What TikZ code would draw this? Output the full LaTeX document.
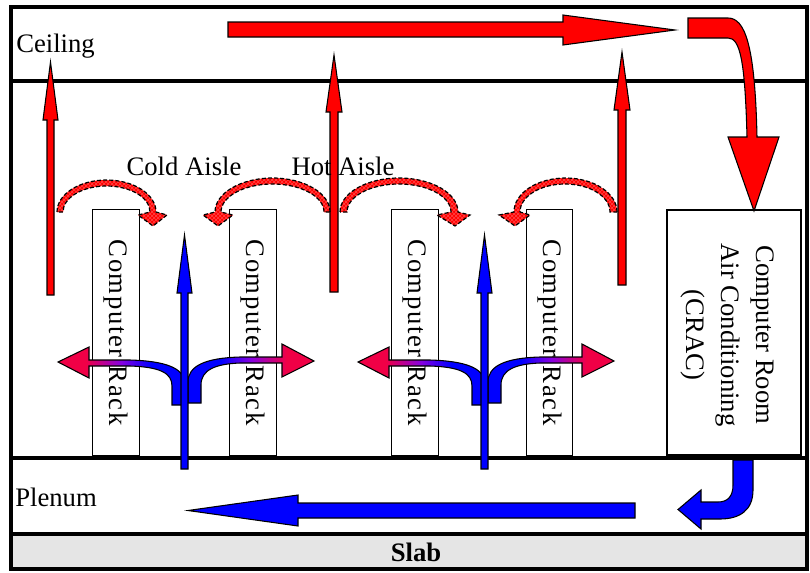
\documentclass[tikz,border=0pt]{standalone}
\usepackage{fontspec}
\setmainfont{Liberation Serif}
\usetikzlibrary{patterns}
\definecolor{hotpink}{RGB}{240,0,70}
\definecolor{midpurple}{RGB}{135,0,225}
\pgfdeclarehorizontalshading{splitLshade}{100bp}{color(0bp)=(hotpink); color(36bp)=(hotpink);
  color(50bp)=(midpurple); color(62bp)=(blue); color(100bp)=(blue)}
\pgfdeclarehorizontalshading{splitRshade}{100bp}{color(0bp)=(blue); color(38bp)=(blue);
  color(50bp)=(midpurple); color(64bp)=(hotpink); color(100bp)=(hotpink)}
\begin{document}
\begin{tikzpicture}[x=0.75pt,y=-0.75pt,
  wall/.style={line width=2.7pt},
  blk/.style={draw=black,line width=0.8pt,line join=miter},
  redarrow/.style={blk,fill=red},
  bluearrow/.style={blk,fill=blue},
  splitl/.style={blk,shading=splitLshade},
  splitr/.style={blk,shading=splitRshade},
  hotarc/.style={draw=black,line width=0.9pt,dash pattern=on 3pt off 1.6pt,
     preaction={fill=red},preaction={pattern=crosshatch,pattern color=red!72!white}},
  rackbox/.style={draw=black,line width=0.8pt,fill=white,rotate=-90,inner sep=0pt,
     minimum width=184pt,minimum height=35pt,
     font=\fontsize{20}{24}\selectfont\addfontfeature{LetterSpace=6}},
  lbl/.style={font=\fontsize{20}{24}\selectfont,inner sep=0pt}]
\useasboundingbox (0,0) rectangle (810,572);

% slab and walls
\fill[gray!20] (11,534) rectangle (807,569);
\draw[wall] (11,7) rectangle (807,569);
\draw[wall] (11,81) -- (807,81);
\draw[wall] (11,458) -- (807,458);
\draw[wall] (11,534) -- (807,534);

% racks
\node[rackbox] (r1) at (116,332.5) {Computer Rack};
\node[rackbox] (r2) at (253,332.5) {Computer Rack};
\node[rackbox] (r3) at (415,332.5) {Computer Rack};
\node[rackbox] (r4) at (549.5,332.5) {Computer Rack};

% CRAC
\node[draw=black,line width=0.8pt,fill=white,minimum width=100.5pt,minimum height=183.75pt,inner sep=0pt]
  (crac) at (734,332.5) {};
\node[lbl,rotate=-90,align=center,font=\fontsize{20}{26}\selectfont] (cractext) at (727.5,335)
  {Computer Room\\Air Conditioning\\(CRAC)};

% red vertical hot-air arrows
\draw[redarrow] (47,295) -- (47,120) -- (43,120) -- (50.5,62) -- (58,120) -- (54,120) -- (54,295) -- cycle;
\draw[redarrow] (330,292) -- (330,112) -- (326,112) -- (334,55) -- (342,112) -- (338,112) -- (338,292) -- cycle;
\draw[redarrow] (618,285) -- (618,110) -- (614,110) -- (622,52) -- (630,110) -- (626,110) -- (626,285) -- cycle;

% hot curved arrows
\draw[hotarc] (57,212) arc[start angle=180,end angle=360,x radius=49.5,y radius=32]
  -- (167,215) -- (153,226) -- (138,215) -- (150,212)
  arc[start angle=360,end angle=180,x radius=43.5,y radius=26] -- cycle;
\draw[hotarc] (330,212) arc[start angle=360,end angle=180,x radius=57.5,y radius=34]
  -- (203,215) -- (218,226) -- (233,215) -- (221,212)
  arc[start angle=180,end angle=360,x radius=51.5,y radius=28] -- cycle;
\draw[hotarc] (340,212) arc[start angle=180,end angle=360,x radius=59,y radius=34]
  -- (470,215) -- (455,226) -- (437,215) -- (451,212)
  arc[start angle=360,end angle=180,x radius=52,y radius=28] -- cycle;
\draw[hotarc] (617,212) arc[start angle=360,end angle=180,x radius=51.5,y radius=34]
  -- (499,215) -- (515,226) -- (530,215) -- (520,212)
  arc[start angle=180,end angle=360,x radius=45,y radius=28] -- cycle;

% ceiling return arrow
\draw[redarrow] (228,22) -- (563,22) -- (563,15) -- (675,30) -- (563,45) -- (563,37) -- (228,37) -- cycle;
\draw[redarrow] (688,18) -- (728,18) .. controls (745,18) and (755,45) .. (757,137)
  -- (779,137) -- (754,211) -- (728,137) -- (747,137)
  .. controls (745,60) and (740,38) .. (728,38) -- (688,38) -- cycle;

% split arrows (cold air through racks)
\foreach \dx in {0,300}{
  \begin{scope}[xshift=\dx*0.75pt]
  \draw[splitl] (184,405) -- (184,382) .. controls (184,368) and (165,361) .. (130,360)
    -- (89,360) -- (89,347) -- (58,362) -- (89,378) -- (89,366) -- (130,366)
    .. controls (160,367) and (172,373) .. (172,386) -- (172,405) -- cycle;
  \draw[splitr] (188,403) -- (188,382) .. controls (188,366) and (205,358) .. (240,357)
    -- (282,357) -- (282,344) -- (314,361) -- (282,377) -- (282,363) -- (240,363)
    .. controls (215,364) and (201,370) .. (201,385) -- (201,403) -- cycle;
  \end{scope}
}

% blue vertical cold-air arrows
\draw[bluearrow] (181,469) -- (181,293) -- (177,293) -- (184.5,235) -- (192,293) -- (188,293) -- (188,469) -- cycle;
\draw[bluearrow] (481,469) -- (481,293) -- (477,293) -- (484.5,235) -- (492,293) -- (488,293) -- (488,469) -- cycle;

% plenum arrows
\draw[bluearrow] (635,503) -- (298,503) -- (298,495) -- (188,510.5) -- (298,526) -- (298,518) -- (635,518) -- cycle;
\draw[bluearrow] (733,460) -- (753,460) -- (753,490) .. controls (753,510) and (740,519) .. (720,519)
  -- (701,519) -- (701,529) -- (678,509.5) -- (701,490) -- (701,502) -- (718,502)
  .. controls (728,502) and (733,496) .. (733,485) -- cycle;

% labels
\node[lbl,anchor=west] (ceil) at (16,46) {Ceiling};
\node[lbl,anchor=west] (plen) at (15,497) {Plenum};
\node[lbl] (cold) at (184,166) {Cold Aisle};
\node[lbl] (hot) at (343,166) {Hot Aisle};
\node[lbl] (slab) at (416,552) {\textbf{Slab}};
\end{tikzpicture}
\end{document}
